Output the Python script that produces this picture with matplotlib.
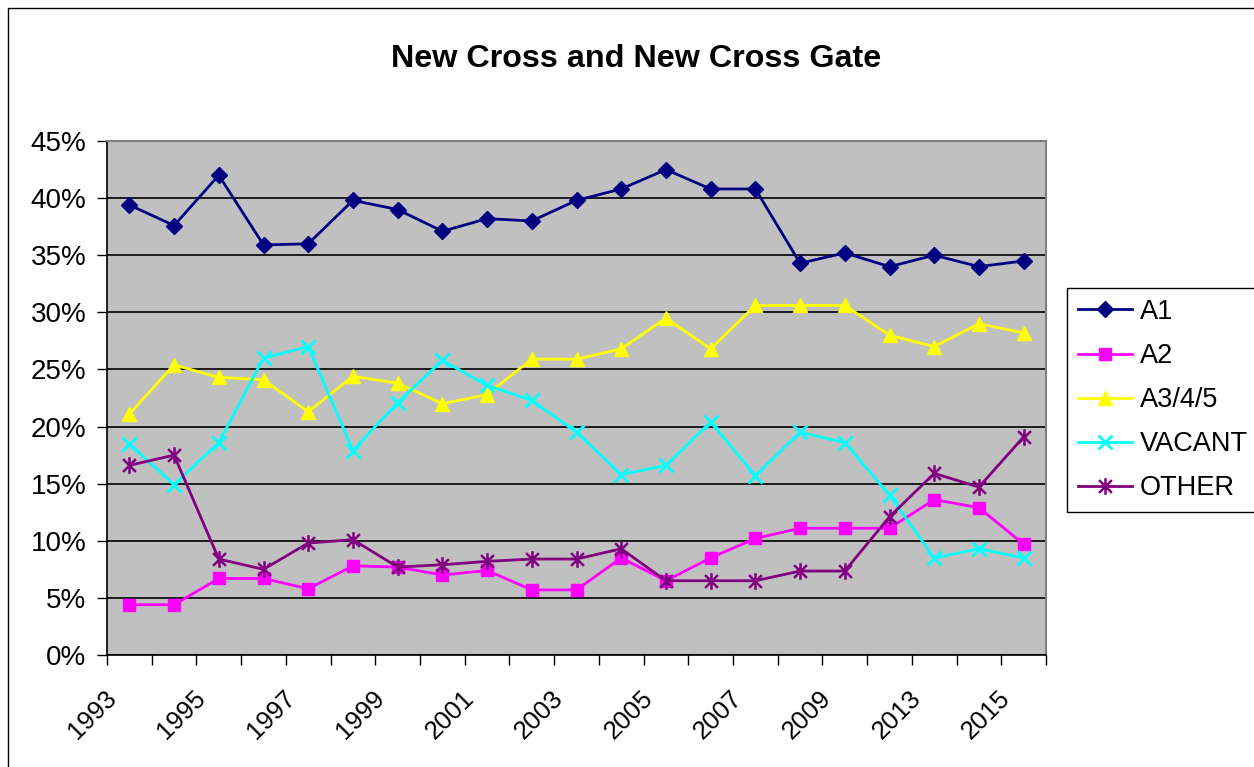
#! /usr/bin/env python3

import numpy as np
import matplotlib
matplotlib.use('Agg')
import matplotlib.pyplot as plt
from matplotlib.path import Path
from matplotlib.patches import Rectangle
from matplotlib.transforms import ScaledTranslation
from matplotlib.ticker import FixedLocator, PercentFormatter

plt.rcParams['font.family'] = ['Liberation Sans', 'DejaVu Sans']

years = ['1993', '1994', '1995', '1996', '1997', '1998', '1999', '2000', '2001', '2002', '2003',
	'2004', '2005', '2006', '2007', '2008', '2009', '2011', '2013', '2014', '2015']

a1 = [39.4, 37.6, 42.0, 35.9, 36.0, 39.8, 39.0, 37.1, 38.2, 38.0, 39.8,
	40.8, 42.5, 40.8, 40.8, 34.3, 35.2, 34.0, 35.0, 34.0, 34.5]
a2 = [4.4, 4.4, 6.7, 6.7, 5.8, 7.8, 7.7, 7.0, 7.4, 5.7, 5.7,
	8.5, 6.5, 8.5, 10.2, 11.1, 11.1, 11.1, 13.6, 12.9, 9.7]
a345 = [21.1, 25.4, 24.3, 24.1, 21.3, 24.4, 23.8, 22.0, 22.8, 25.9, 25.9,
	26.8, 29.5, 26.8, 30.6, 30.6, 30.6, 28.0, 27.0, 29.0, 28.2]
vacant = [18.5, 14.9, 18.6, 26.0, 27.0, 17.9, 22.1, 25.8, 23.6, 22.3, 19.5,
	15.8, 16.6, 20.4, 15.7, 19.5, 18.6, 14.0, 8.5, 9.3, 8.5]
other = [16.6, 17.5, 8.4, 7.5, 9.8, 10.1, 7.7, 7.9, 8.2, 8.4, 8.4,
	9.3, 6.5, 6.5, 6.5, 7.35, 7.35, 12.1, 15.9, 14.7, 19.1]

# excel style asterisk: an x with a vertical bar through it
star = Path([(-1, -1), (1, 1), (-1, 1), (1, -1), (0, -1.3), (0, 1.3)],
	[Path.MOVETO, Path.LINETO, Path.MOVETO, Path.LINETO, Path.MOVETO, Path.LINETO])

W, H = 1254, 767
fig = plt.figure(figsize=(W/100, H/100), dpi=100)
fig.patch.set_facecolor('white')

# chart area border (only left and top visible in the crop)
fig.patches.append(Rectangle((8/W, -0.2), 1.5, 1.2 - 8/H, transform=fig.transFigure,
	fill=False, edgecolor='black', linewidth=1))

ax = fig.add_axes([107/W, 1 - 655/H, (1046-107)/W, (655-141)/H])
ax.set_facecolor('#C0C0C0')

x = np.arange(len(years))
ax.plot(x, a1, color='#000080', lw=2, marker='D', ms=8, label='A1')
ax.plot(x, a2, color='#FF00FF', lw=2, marker='s', ms=8.5, label='A2')
ax.plot(x, a345, color='#FFFF00', lw=2, marker='^', ms=10, label='A3/4/5')
ax.plot(x, vacant, color='#00FFFF', lw=2, marker='x', ms=10, mew=2, label='VACANT')
ax.plot(x, other, color='#800080', lw=2, marker=star, ms=12, mew=1.8, label='OTHER')

ax.set_xlim(-0.5, len(years) - 0.5)
ax.set_ylim(0, 45)
ax.set_yticks(np.arange(0, 46, 5))
ax.yaxis.set_major_formatter(PercentFormatter(decimals=0))
ax.yaxis.grid(True, color='black', lw=1.2)
ax.set_axisbelow(True)

# tick marks between categories, labels on every other category
ax.xaxis.set_major_locator(FixedLocator(np.arange(-0.5, len(years), 1)))
ax.xaxis.set_major_formatter(plt.NullFormatter())
ax.tick_params(axis='both', which='major', direction='out', length=7, width=1, color='black')
ax.tick_params(axis='y', labelsize=20, pad=8)

shift = ScaledTranslation(-17/100, -39/100, fig.dpi_scale_trans)
for i in x[::2]:
	ax.text(i, 0, years[i], transform=ax.get_xaxis_transform() + shift, fontsize=18.5,
		rotation=45, ha='right', va='center', rotation_mode='anchor')

for side in ['top', 'right']:
	ax.spines[side].set_color('#808080')
	ax.spines[side].set_linewidth(1.5)
for side in ['left', 'bottom']:
	ax.spines[side].set_color('black')
	ax.spines[side].set_linewidth(1.2)

fig.text(636/W, 1 - 67/H, 'New Cross and New Cross Gate', ha='center', va='baseline',
	fontsize=23.2, fontweight='bold')

leg = fig.legend(loc='upper left', bbox_to_anchor=(1067/W, 1 - 288/H), fontsize=19.5,
	frameon=True, fancybox=False, edgecolor='black', framealpha=1, borderpad=0.4,
	labelspacing=0.67, handlelength=2.0, handletextpad=0.3, borderaxespad=0)
leg.get_frame().set_linewidth(1)

plt.savefig('out.png', dpi=100)
plt.close()
